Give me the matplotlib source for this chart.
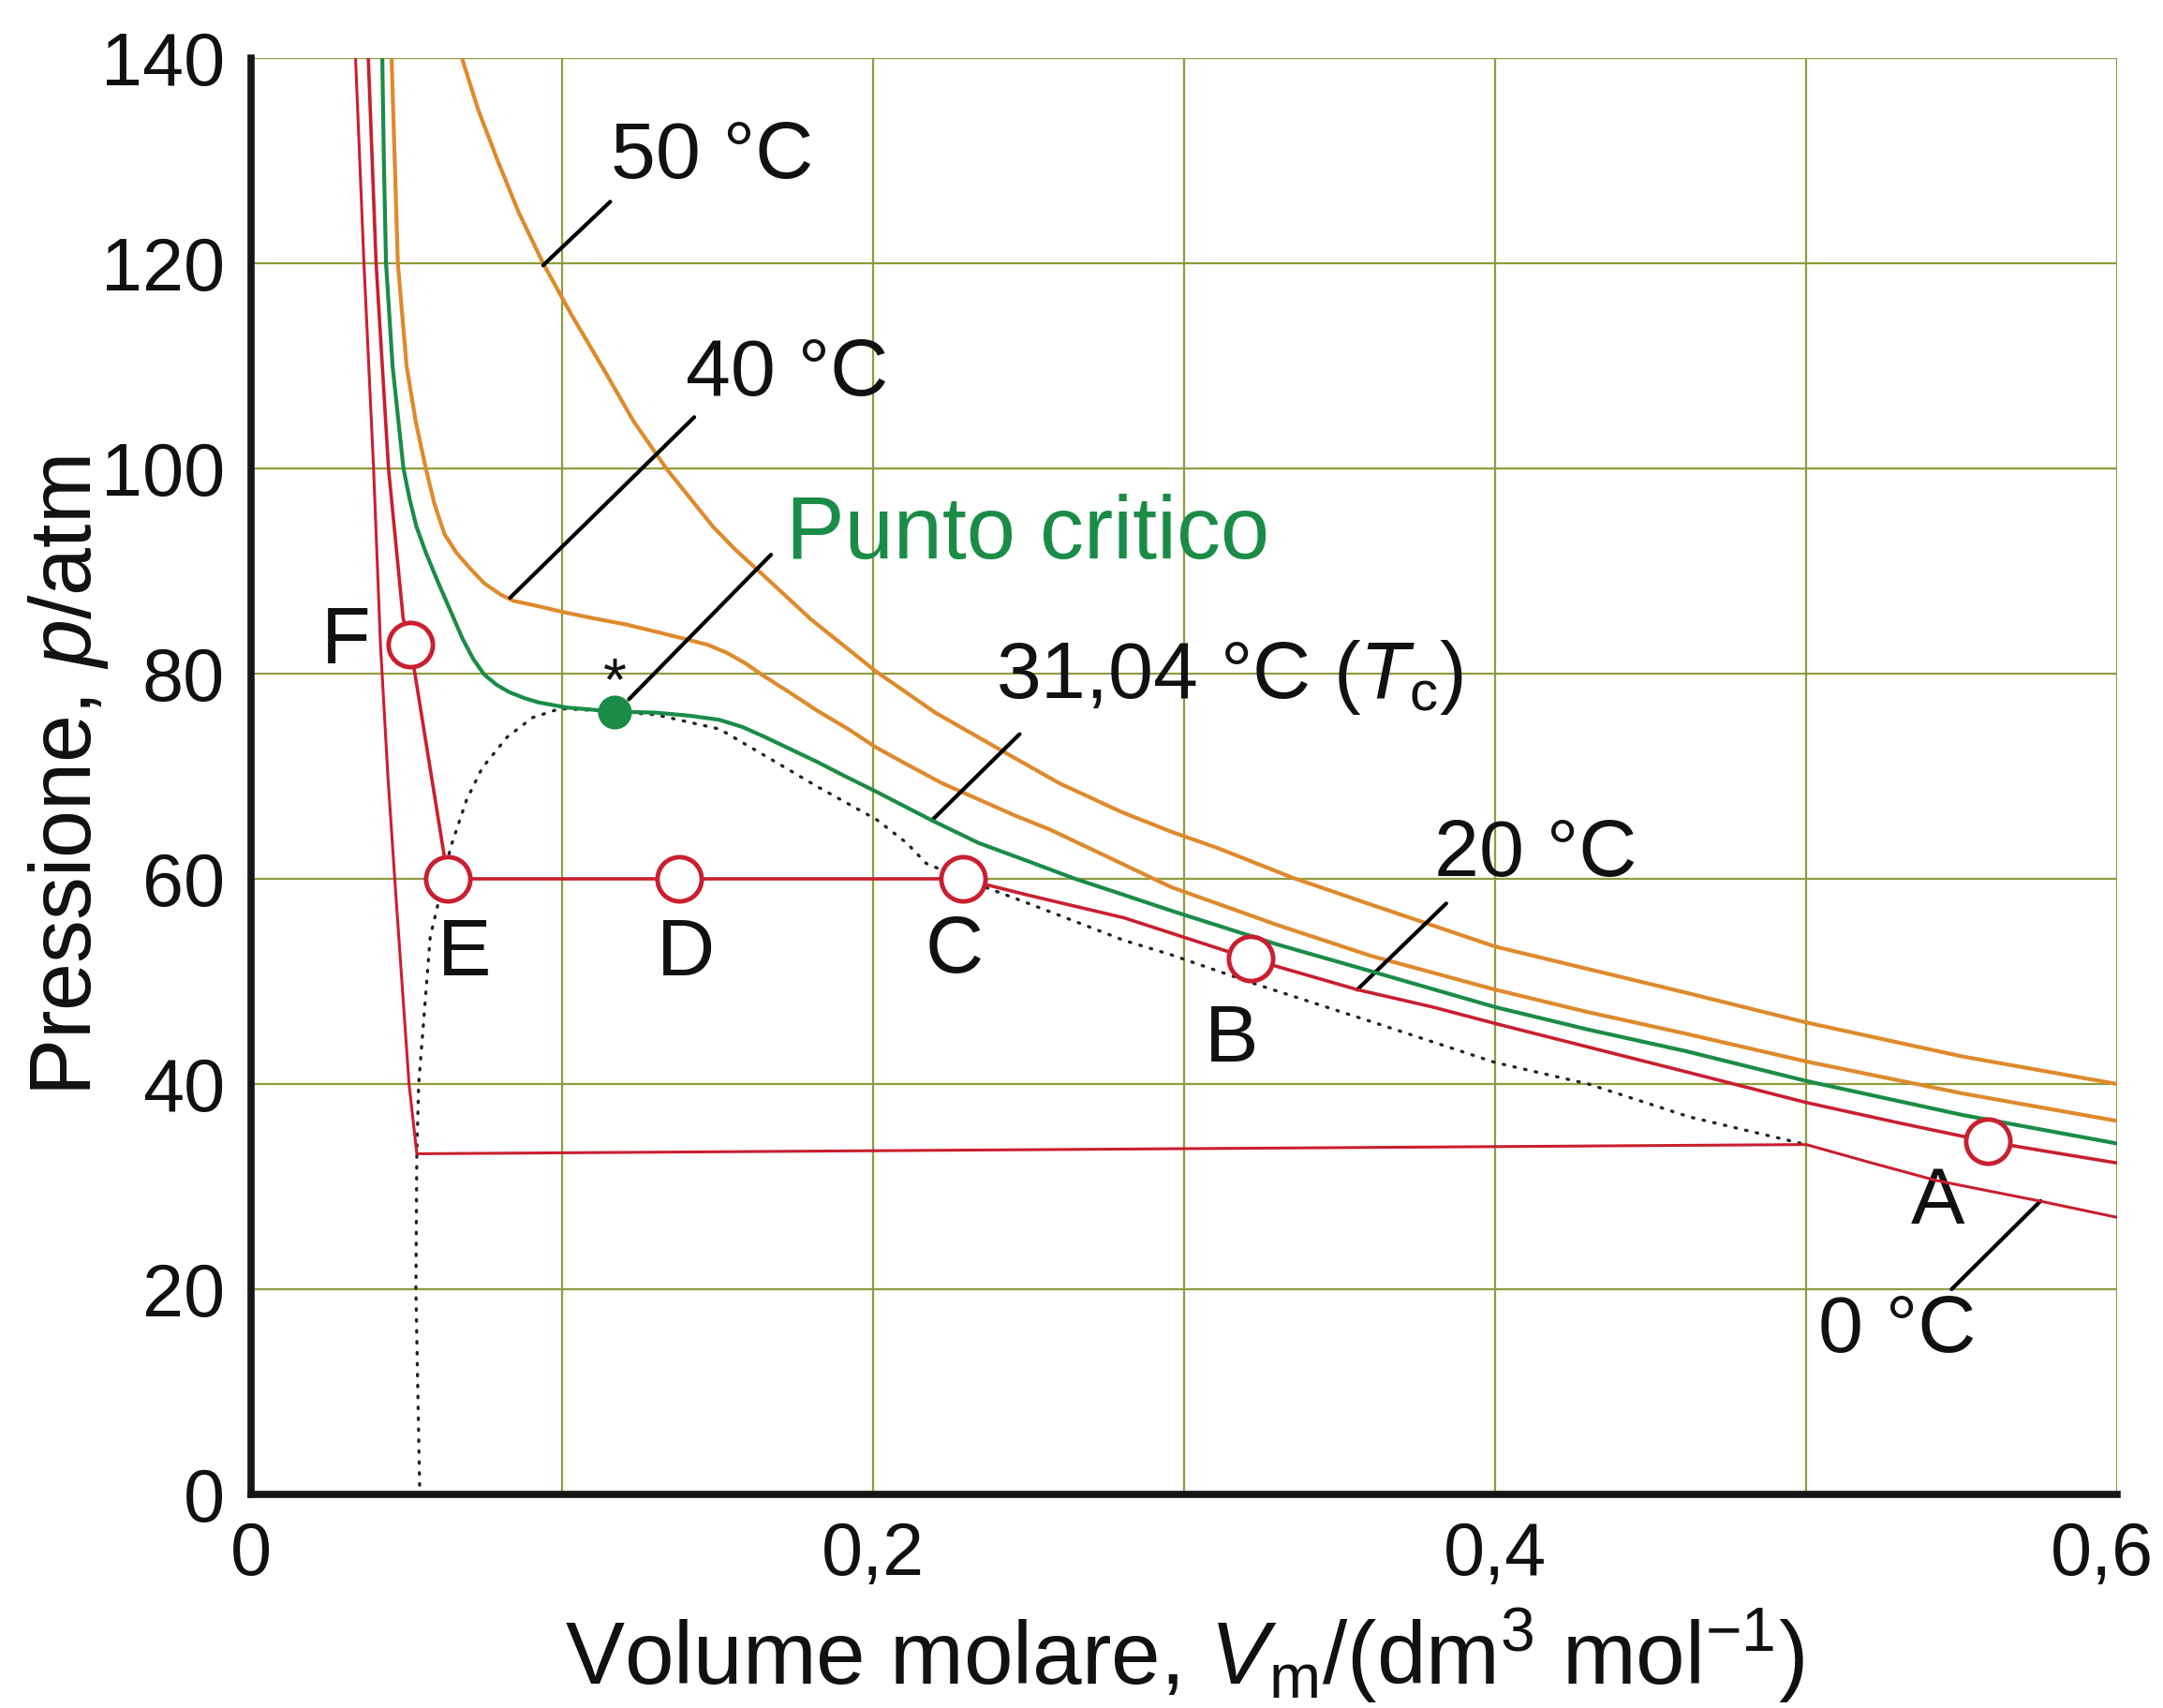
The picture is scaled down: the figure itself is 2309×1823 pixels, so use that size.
import matplotlib
matplotlib.use("Agg")
import matplotlib.pyplot as plt
from matplotlib.ticker import MultipleLocator, FixedLocator, FuncFormatter
from matplotlib.transforms import ScaledTranslation

plt.rcParams['font.family'] = ['Liberation Sans', 'DejaVu Sans']
plt.rcParams['mathtext.fontset'] = 'custom'
plt.rcParams['mathtext.rm'] = 'Liberation Sans'
plt.rcParams['mathtext.it'] = 'Liberation Sans:italic'

# isotherms of CO2, molar volume (dm3/mol) vs pressure (atm)
v_0 = [0.0336, 0.0363, 0.0394, 0.0416, 0.0440, 0.0462, 0.0485, 0.0508, 0.0533,
       0.5000, 0.5200, 0.5418, 0.5750, 0.6000]
p_0 = [140, 120, 100, 82.9, 70, 60, 50, 40, 33.2,
       34.1, 32.4, 30.6, 28.6, 27.0]

v_20 = [0.0377, 0.0402, 0.0442, 0.0489, 0.0512, 0.0633, 0.1376, 0.2289,
        0.2500, 0.2807, 0.3000, 0.3214, 0.3557, 0.3800, 0.4000, 0.4300,
        0.4600, 0.5000, 0.5300, 0.5583, 0.5800, 0.6000]
p_20 = [140, 120, 100, 85.4, 82.8, 60, 60, 60,
        58.4, 56.2, 54.3, 52.2, 49.2, 47.5, 45.9, 43.6,
        41.3, 38.2, 36.2, 34.4, 33.3, 32.3]

v_31 = [0.0422, 0.0427, 0.0434, 0.0455, 0.0490, 0.0510, 0.0532, 0.0562,
        0.0600, 0.0643, 0.0680, 0.0715, 0.0750, 0.0790, 0.0830, 0.0880,
        0.0924, 0.1014, 0.1170, 0.1301, 0.1410, 0.1506, 0.1580, 0.1647,
        0.1730, 0.1820, 0.1910, 0.2010, 0.2189, 0.2339, 0.2500, 0.2650,
        0.2800, 0.2958, 0.3300, 0.3600, 0.4000, 0.4300, 0.4614, 0.5000,
        0.5500, 0.6000]
p_31 = [140, 130, 120, 110, 100, 97.0, 94.3, 91.8,
        89.0, 86.0, 83.4, 81.4, 79.9, 78.9, 78.2, 77.6,
        77.2, 76.7, 76.3, 76.2, 75.9, 75.5, 74.8, 73.9,
        72.7, 71.4, 70.0, 68.5, 65.7, 63.5, 61.7, 60.0,
        58.5, 56.9, 53.6, 51.0, 47.5, 45.3, 43.2, 40.3,
        37.0, 34.2]

v_40 = [0.0452, 0.0462, 0.0472, 0.0500, 0.0530, 0.0562, 0.0590, 0.0622,
        0.0660, 0.0703, 0.0750, 0.0803, 0.0843, 0.0920, 0.1004, 0.1100,
        0.1205, 0.1300, 0.1406, 0.1470, 0.1532, 0.1590, 0.1647, 0.1730,
        0.1820, 0.1920, 0.2010, 0.2100, 0.2223, 0.2350, 0.2454, 0.2569,
        0.2750, 0.2958, 0.3300, 0.3600, 0.4000, 0.4300, 0.4614, 0.5000,
        0.5500, 0.6000]
p_40 = [140, 130, 120, 110, 104.5, 100, 96.5, 93.6,
        91.8, 90.3, 88.8, 87.7, 87.1, 86.6, 86.0, 85.4,
        84.8, 84.1, 83.3, 82.8, 82.0, 81.0, 79.8, 78.2,
        76.4, 74.6, 72.8, 71.3, 69.3, 67.6, 66.2, 64.8,
        62.2, 59.2, 55.5, 52.5, 49.2, 47.0, 44.9, 42.2,
        39.1, 36.4]

v_50 = [0.0678, 0.0730, 0.0793, 0.0860, 0.0939, 0.1030, 0.1135, 0.1230,
        0.1335, 0.1486, 0.1560, 0.1647, 0.1800, 0.2010, 0.2200, 0.2454,
        0.2600, 0.2800, 0.2958, 0.3108, 0.3350, 0.3600, 0.4000, 0.4300,
        0.4614, 0.5000, 0.5500, 0.6000]
p_50 = [140, 135, 130, 125, 120, 115, 109.6, 104.6,
        100, 94.3, 92.0, 89.6, 85.3, 80.2, 76.2, 71.8,
        69.3, 66.5, 64.6, 63.0, 60.1, 57.5, 53.4, 51.2,
        48.9, 46.0, 42.7, 40.0]

# coexistence boundary (dotted)
v_dome = [0.0542, 0.0530, 0.0533, 0.0539, 0.0576, 0.0600, 0.0620, 0.0643,
          0.0693, 0.0743, 0.0823, 0.0904, 0.0994, 0.1170, 0.1301, 0.1506,
          0.1647, 0.1820, 0.2010, 0.2108, 0.2171, 0.2289, 0.2500, 0.2807,
          0.2958, 0.3234, 0.3600, 0.4000, 0.4300, 0.4624, 0.5000]
p_dome = [0.9, 20, 33.2, 40, 54.3, 57.4, 60.4, 63.2,
          67.7, 70.8, 73.8, 75.7, 76.6, 76.3, 76.0, 74.6,
          72.1, 69.0, 65.8, 63.5, 61.5, 60.0, 57.6, 54.0,
          52.6, 49.7, 46.1, 42.1, 40.0, 36.8, 34.1]

# states along the 20 C isotherm
state_names = ['A', 'B', 'C', 'D', 'E', 'F']
state_v = [0.5583, 0.3214, 0.2289, 0.1376, 0.0633, 0.0512]
state_p = [34.4, 52.2, 60.0, 60.0, 60.0, 82.8]

crit_v = 0.117
crit_p = 76.3

orange = '#de8a2c'
green = '#1b8c47'
red = '#c91f30'
grid_col = '#8f9c3e'

fig = plt.figure(figsize=(23.09, 18.23), dpi=100)
ax = fig.add_axes([268 / 2309, 1 - 1595 / 1823, 1992 / 2309, 1533 / 1823])

ax.plot(v_dome, p_dome, color='#222222', lw=2.4, linestyle=(0, (0.5, 3.0)),
        dash_capstyle='round', zorder=2)
ax.plot(v_50, p_50, color=orange, lw=3.0, zorder=3)
ax.plot(v_40, p_40, color=orange, lw=3.0, zorder=3)
ax.plot(v_31, p_31, color=green, lw=3.0, zorder=4)
ax.plot(v_20, p_20, color=red, lw=2.6, zorder=4)
ax.plot(v_0, p_0, color=red, lw=2.2, zorder=4)

ax.plot(state_v, state_p, 'o', ms=34, mfc='white', mec=red, mew=3.5, zorder=6)
ax.plot([crit_v], [crit_p], 'o', ms=26, color=green, mec='none', zorder=6)

label_kw = dict(fontsize=62, color='#111111', va='center')
label_pos = {'A': (0.5424, 28.4), 'B': (0.3153, 44.2), 'C': (0.2262, 52.9),
             'D': (0.1397, 52.6), 'E': (0.0687, 52.6), 'F': (0.0306, 83.0)}
for name in state_names:
    x, y = label_pos[name]
    ax.text(x, y, name, ha='center', **label_kw)

# isotherm labels with leader lines
lead = dict(arrowstyle='-', color='black', lw=3.0, shrinkA=0, shrinkB=0)
ax.annotate('', xy=(0.0939, 119.8), xytext=(0.1155, 126.0), arrowprops=lead)
ax.text(0.1157, 130.3, '50 °C', ha='left', **label_kw)
ax.annotate('', xy=(0.0833, 87.4), xytext=(0.1425, 105.0), arrowprops=lead)
ax.text(0.1397, 109.1, '40 °C', ha='left', **label_kw)
ax.annotate('', xy=(0.1215, 77.5), xytext=(0.1672, 91.6), arrowprops=lead)
ax.text(0.172, 93.5, 'Punto critico', ha='left', fontsize=67.5, color=green, va='center')
ax.text(crit_v, 79.0, '*', ha='center', va='center', fontsize=46, color='#111111')
ax.annotate('', xy=(0.2189, 65.7), xytext=(0.2471, 74.1), arrowprops=lead)
ax.text(0.2395, 79.6, r'31,04 °C ($T_\mathrm{c}$)', ha='left', **label_kw)
ax.annotate('', xy=(0.3557, 49.2), xytext=(0.3843, 57.6), arrowprops=lead)
ax.text(0.3805, 62.3, '20 °C', ha='left', **label_kw)
ax.annotate('', xy=(0.5754, 28.6), xytext=(0.5468, 20.0), arrowprops=lead)
ax.text(0.5038, 15.9, '0 °C', ha='left', **label_kw)

ax.set_xlim(0, 0.6)
ax.set_ylim(0, 140)
ax.xaxis.set_major_locator(FixedLocator([0, 0.2, 0.4, 0.6]))
ax.xaxis.set_minor_locator(FixedLocator([0.1, 0.3, 0.5]))
ax.yaxis.set_major_locator(MultipleLocator(20))
ax.xaxis.set_major_formatter(FuncFormatter(lambda v, pos: ('%g' % round(v, 1)).replace('.', ',')))
ax.grid(True, which='both', color=grid_col, lw=1.6, zorder=0)
ax.set_axisbelow(True)
ax.tick_params(which='both', length=0, labelsize=57, pad=20, labelcolor='#111111')

for side in ['top', 'right']:
    ax.spines[side].set_visible(False)
for side in ['left', 'bottom']:
    ax.spines[side].set_linewidth(5.5)
    ax.spines[side].set_color('#151515')
    ax.spines[side].set_zorder(7)

ax.set_xlabel(r'Volume molare, $V_\mathrm{m}$/(dm$^3$ mol$^{-1}$)', fontsize=68,
              labelpad=12, color='#111111')
ax.set_ylabel(r'Pressione, $p$/atm', fontsize=66, labelpad=-7, color='#111111')

# keep the last x tick label inside the figure
fig.canvas.draw()
last = ax.xaxis.get_major_ticks()[-1].label1
last.set_transform(last.get_transform() + ScaledTranslation(-0.16, 0, fig.dpi_scale_trans))

fig.savefig('out.png', dpi=100)
